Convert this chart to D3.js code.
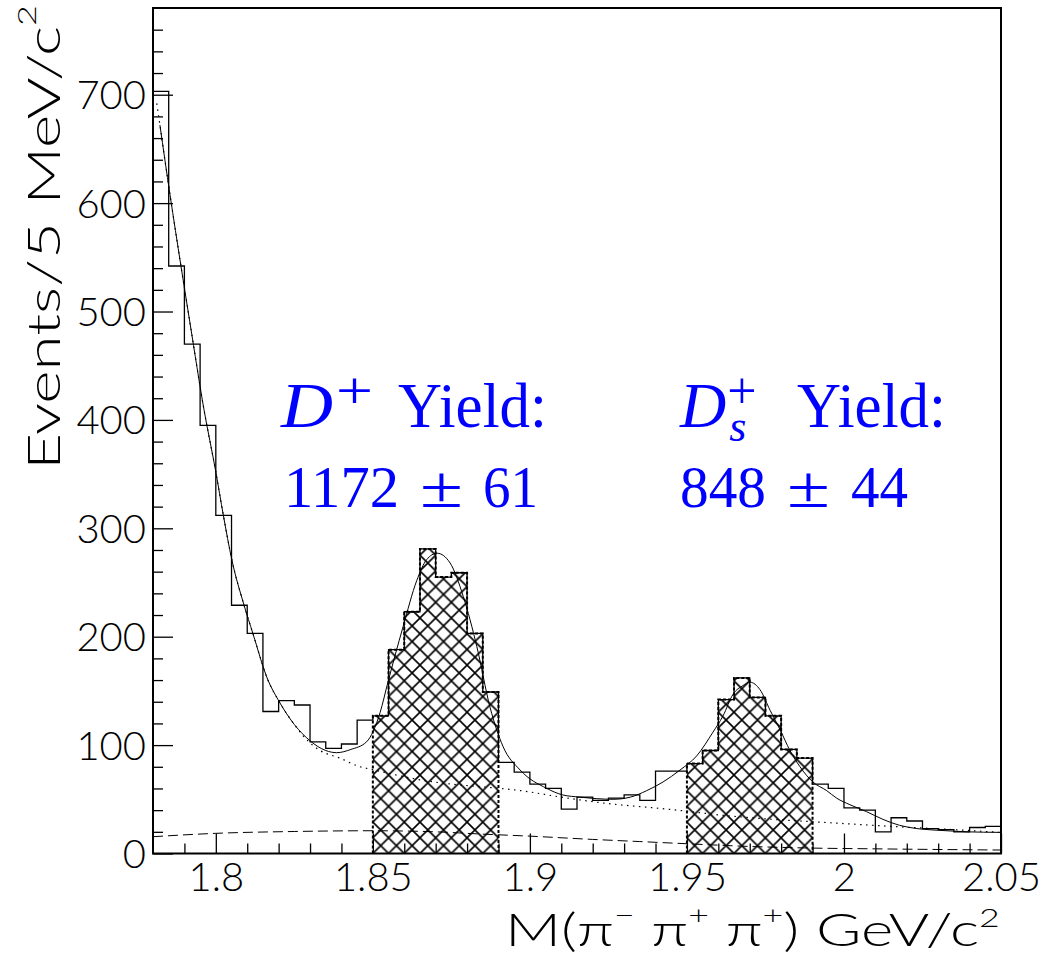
<!DOCTYPE html>
<html><head><meta charset="utf-8">
<script src="https://cdn.jsdelivr.net/npm/d3@7"></script>
<style>body{margin:0;background:#fff}</style>
</head><body>
<svg id="c" width="1050" height="958"></svg>
<script>
// ---------------- DATA ----------------
// histogram bin edges (GeV/c^2), 5 MeV bins
const binEdges = [1.780,1.785,1.790,1.795,1.800,1.805,1.810,1.815,1.820,1.825,1.830,1.835,1.840,1.845,1.850,1.855,1.860,1.865,1.870,1.875,1.880,1.885,1.890,1.895,1.900,1.905,1.910,1.915,1.920,1.925,1.930,1.935,1.940,1.945,1.950,1.955,1.960,1.965,1.970,1.975,1.980,1.985,1.990,1.995,2.000,2.005,2.010,2.015,2.020,2.025,2.030,2.035,2.040,2.045,2.050];
// events per bin
const counts = [703,542,470,395,312,229,203,131,141,137,103,97,101,123,127,188,223,281,255,259,203,149,84,75,64,60,41,52,49,51,54,49,76,76,83,95,142,162,144,127,96,88,64,60,42,40,20,33,30,23,22,20,24,25];
// hatched signal regions
const signalRegions = [[1.85,1.89],[1.95,1.99]];
// total fit (solid)
const totalFitX = [1.7822,1.7854,1.7889,1.7918,1.7962,1.8000,1.8024,1.8051,1.8090,1.8118,1.8166,1.8198,1.8250,1.8300,1.8350,1.8385,1.8430,1.8480,1.8523,1.8548,1.8596,1.8640,1.8671,1.8705,1.8746,1.8788,1.8831,1.8873,1.8914,1.8969,1.9054,1.9105,1.9160,1.9265,1.9320,1.9372,1.9424,1.9478,1.9531,1.9583,1.9615,1.9647,1.9679,1.9701,1.9733,1.9765,1.9797,1.9828,1.9860,1.9901,1.9945,1.9977,2.0019,2.0072,2.0124,2.0177,2.0232,2.0283,2.0338,2.0391,2.0497];
const totalFitY = [672,608,542,489,410,352,312,271,229,203,160,142,119,104,95,93,96,103,130,158,209,252,271,277,268,237,191,135,99,77,60,54,52,50,52,58,66,77,90,112,127,147,155,158,151,132,114,95,80,66,58,51,45,38.6,31.5,26,23,21.7,20.8,20,19.5];
// background fit (dotted)
const bkgFitX = [1.7812,1.7822,1.7854,1.7889,1.7918,1.7962,1.8000,1.8024,1.8051,1.8090,1.8118,1.8166,1.8198,1.8250,1.8300,1.8332,1.8395,1.8459,1.8498,1.8550,1.8650,1.8750,1.8850,1.8970,1.9100,1.9250,1.9400,1.9500,1.9605,1.9750,1.9900,1.9977,2.0178,2.0350,2.0497];
const bkgFitY = [692,672,608,542,489,410,352,312,271,229,203,160,142,119,102,95,88,80,77.5,74,68,64,61.5,58,52,46,42,39,35.5,32,29.3,28,24.6,22,19.5];
// broad component (dashed)
const broadFitX = [1.780,1.800,1.825,1.850,1.870,1.884,1.900,1.920,1.935,1.950,1.970,1.990,2.010,2.030,2.050];
const broadFitY = [15.5,18.6,20.3,21,20,18,16,13,11,9,6.5,5,4.3,3.7,3.2];
// ticks
const yMajorTicks = [0,100,200,300,400,500,600,700];
const yTickLabels = ["0","100","200","300","400","500","600","700"];
const yMinorTicks = [20,40,60,80,120,140,160,180,220,240,260,280,320,340,360,380,420,440,460,480,520,540,560,580,620,640,660,680,720,740,760];
const xMajorTicks = [1.8,1.85,1.9,1.95,2.0,2.05];
const xTickLabels = ["1.8","1.85","1.9","1.95","2","2.05"];
const xMinorTicks = [1.79,1.81,1.82,1.83,1.84,1.86,1.87,1.88,1.89,1.91,1.92,1.93,1.94,1.96,1.97,1.98,1.99,2.01,2.02,2.03,2.04];

// ---------------- LAYOUT ----------------
const L = 153, R = 1001, T = 8, B = 853.5;
const svg = d3.select("#c");
const x = d3.scaleLinear().domain([1.78, 2.05]).range([L, R]);
const y = d3.scaleLinear().domain([0, 780]).range([B, T]);
const tickFont = "Lato, 'Liberation Sans', Arial, sans-serif";
const tickWeight = 300;

// hatch pattern
const hw = 15.7;
const defs = svg.append("defs");
const pat = defs.append("pattern").attr("id", "hatch").attr("patternUnits", "userSpaceOnUse")
  .attr("width", hw).attr("height", hw).attr("x", x(1.85)).attr("y", y(0));
pat.append("path")
  .attr("d", `M0,0L${hw},${hw}M${hw-1},-1L${hw+1},1M-1,${hw-1}L1,${hw+1}` +
             `M0,${hw}L${hw},0M-1,1L1,-1M${hw-1},${hw+1}L${hw+1},${hw-1}`)
  .attr("stroke", "#000").attr("stroke-width", 1.6).attr("fill", "none");

// hatched regions
signalRegions.forEach(([lo, hi]) => {
  let d = `M${x(lo)},${y(0)}`;
  for (let i = 0; i < counts.length; i++) {
    if (binEdges[i] >= lo - 1e-9 && binEdges[i+1] <= hi + 1e-9) {
      d += `L${x(binEdges[i])},${y(counts[i])}L${x(binEdges[i+1])},${y(counts[i])}`;
    }
  }
  d += `L${x(hi)},${y(0)}`;
  svg.append("path").attr("d", d + "Z").attr("fill", "url(#hatch)").attr("stroke", "none");
  svg.append("path").attr("d", d).attr("fill", "none").attr("stroke", "#000")
    .attr("stroke-width", 2).attr("stroke-dasharray", "3,2");
});

// fit curves
const lineGen = d3.line().x(d => x(d[0])).y(d => y(d[1])).curve(d3.curveMonotoneX);
svg.append("path").attr("d", lineGen(broadFitX.map((v, i) => [v, broadFitY[i]])))
  .attr("fill", "none").attr("stroke", "#000").attr("stroke-width", 1).attr("stroke-dasharray", "10,5");
svg.append("path").attr("d", lineGen(bkgFitX.map((v, i) => [v, bkgFitY[i]])))
  .attr("fill", "none").attr("stroke", "#000").attr("stroke-width", 1.2).attr("stroke-dasharray", "1.5,4.5");

// histogram
let hd = `M${x(binEdges[0])},${y(0)}`;
counts.forEach((c, i) => { hd += `L${x(binEdges[i])},${y(c)}L${x(binEdges[i+1])},${y(c)}`; });
hd += `L${x(binEdges[binEdges.length-1])},${y(0)}`;
svg.append("path").attr("d", hd).attr("fill", "none").attr("stroke", "#000").attr("stroke-width", 1.3);

svg.append("path").attr("d", lineGen(totalFitX.map((v, i) => [v, totalFitY[i]])))
  .attr("fill", "none").attr("stroke", "#000").attr("stroke-width", 1);

// axes
const yMinor = svg.append("g").attr("transform", `translate(${L},0)`)
  .call(d3.axisLeft(y).tickValues(yMinorTicks).tickSize(-10).tickSizeOuter(0).tickFormat(""));
const yMajor = svg.append("g").attr("transform", `translate(${L},0)`)
  .call(d3.axisLeft(y).tickValues(yMajorTicks).tickSize(-20).tickSizeOuter(0).tickPadding(7)
    .tickFormat((d, i) => yTickLabels[i]));
const xMinor = svg.append("g").attr("transform", `translate(0,${B})`)
  .call(d3.axisBottom(x).tickValues(xMinorTicks).tickSize(-10).tickSizeOuter(0).tickFormat(""));
const xMajor = svg.append("g").attr("transform", `translate(0,${B})`)
  .call(d3.axisBottom(x).tickValues(xMajorTicks).tickSize(-20).tickSizeOuter(0).tickPadding(9)
    .tickFormat((d, i) => xTickLabels[i]));
[yMinor, yMajor, xMinor, xMajor].forEach(g => {
  g.select(".domain").remove();
  g.selectAll(".tick line").attr("stroke", "#000").attr("stroke-width", 1.3);
  g.selectAll("text").attr("font-family", tickFont).attr("font-weight", tickWeight)
    .attr("font-size", 40).attr("fill", "#000");
});
yMajor.selectAll("text").attr("dy", "0.35em");

// frame
svg.append("rect").attr("x", L).attr("y", T).attr("width", R - L).attr("height", B - T)
  .attr("fill", "none").attr("stroke", "#000").attr("stroke-width", 2);

// ---------------- TITLES ----------------
function scaleTo(g, target) {
  const w = g.node().getBBox().width;
  return target / w;
}
// y title
const yt = svg.append("g");
const ytt = yt.append("text").attr("font-family", tickFont).attr("font-weight", tickWeight)
  .attr("font-size", 46).attr("fill", "#000");
ytt.append("tspan").text("Events/5 MeV/c");
ytt.append("tspan").text("2").attr("font-size", 26).attr("dy", -24);
const ys = scaleTo(yt, 465);
yt.attr("transform", `translate(60,470) rotate(-90) scale(${ys},1)`);

// x title
const xt = svg.append("g");
const xtt = xt.append("text").attr("font-family", tickFont).attr("font-weight", tickWeight)
  .attr("font-size", 45).attr("fill", "#000");
xtt.append("tspan").text("M(π");
xtt.append("tspan").text("−").attr("font-size", 26).attr("dy", -22);
xtt.append("tspan").text(" π").attr("dy", 22);
xtt.append("tspan").text("+").attr("font-size", 26).attr("dy", -22);
xtt.append("tspan").text(" π").attr("dy", 22);
xtt.append("tspan").text("+").attr("font-size", 26).attr("dy", -22);
xtt.append("tspan").text(") GeV/c").attr("dy", 22);
xtt.append("tspan").text("2").attr("font-size", 26).attr("dy", -19);
const xs = scaleTo(xt, 495);
xt.attr("transform", `translate(505,946) scale(${xs},1)`);

// ---------------- YIELD LABELS ----------------
const serif = "'Liberation Serif', 'Times New Roman', serif";
const blue = "#0000ff";
function piece(txt, px, py, size, width, italic) {
  return svg.append("text").attr("x", px).attr("y", py).attr("font-family", serif)
    .attr("font-size", size).attr("fill", blue).attr("font-style", italic ? "italic" : "normal")
    .attr("textLength", width).attr("lengthAdjust", "spacingAndGlyphs").text(txt);
}
// D+ Yield: 1172 ± 61
piece("D", 281, 427, 64, 52, true);
piece("+", 336, 408, 52, 37, false);
piece("Yield:", 398, 427, 64, 149, false);
piece("1172", 284, 507, 60, 115, false);
piece("±", 420, 507, 60, 43, false);
piece("61", 483, 507, 60, 55, false);
// Ds+ Yield: 848 ± 44  (D with stacked sub/superscript in one text element)
const ds = svg.append("text").attr("x", 680).attr("y", 427).attr("font-family", serif)
  .attr("fill", blue).attr("font-size", 64);
ds.append("tspan").text("D").attr("font-style", "italic");
ds.append("tspan").text("s").attr("font-style", "italic").attr("font-size", 44).attr("dx", 3).attr("dy", 14);
ds.append("tspan").text("+").attr("font-size", 52).attr("dx", -19).attr("dy", -33);
piece("Yield:", 797, 427, 64, 149, false);
piece("848", 680, 507, 60, 86, false);
piece("±", 787, 507, 60, 43, false);
piece("44", 851, 507, 60, 57, false);
</script>
</body></html>
